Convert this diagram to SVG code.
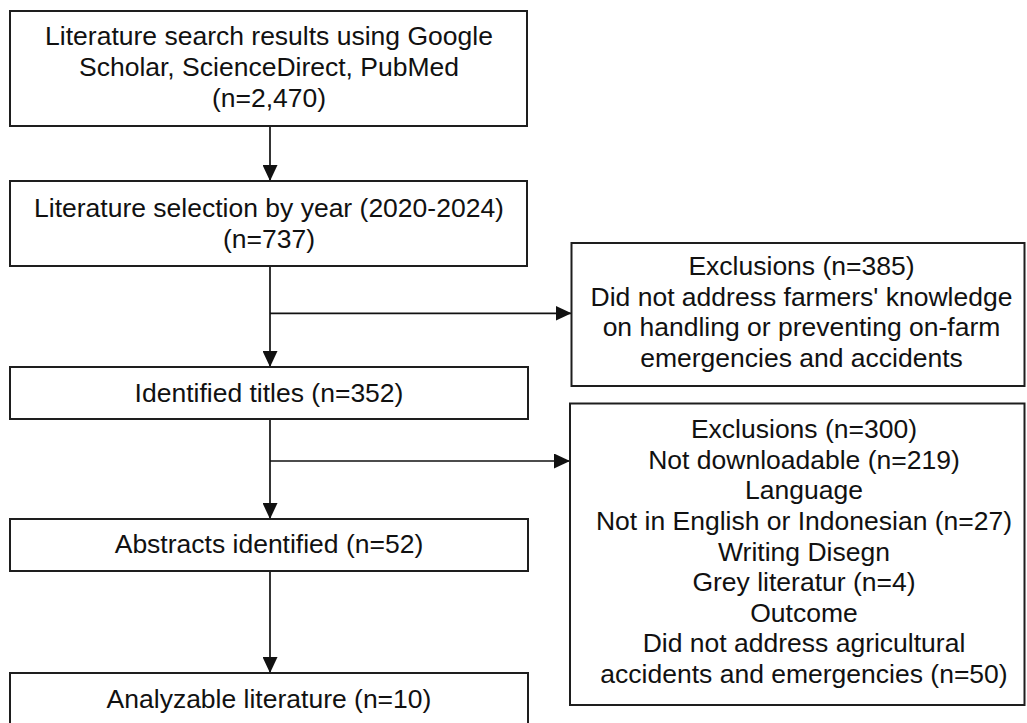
<svg xmlns="http://www.w3.org/2000/svg" width="1027" height="723" viewBox="0 0 1027 723">
<style>
.box{fill:#fff;stroke:#1e1e1e;stroke-width:2}
.lbl{font-family:"Liberation Sans",Arial,sans-serif;font-size:26.5px;fill:#111;text-anchor:middle}
.con{fill:none;stroke:#111;stroke-width:1.7;marker-end:url(#arr)}
</style>
<defs>
<marker id="arr" viewBox="0 0 16 15" refX="16" refY="7.5" markerWidth="16" markerHeight="15" markerUnits="userSpaceOnUse" orient="auto">
<path d="M0,0 L16,7.5 L0,15 z" fill="#111"/>
</marker>
</defs>
<rect width="1027" height="723" fill="#fff"/>
<g id="connectors">
<path class="con" d="M270,126 V181"/>
<path class="con" d="M270,266 V367"/>
<path class="con" d="M270,313.3 H571.5"/>
<path class="con" d="M270,419 V519"/>
<path class="con" d="M270,461 H570"/>
<path class="con" d="M270,571 V673"/>
</g>
<g id="n1">
<rect class="box" x="10" y="11" width="517" height="115"/>
<text class="lbl" x="269" y="45">Literature search results using Google</text>
<text class="lbl" x="269" y="76">Scholar, ScienceDirect, PubMed</text>
<text class="lbl" x="269" y="106.7">(n=2,470)</text>
</g>
<g id="n2">
<rect class="box" x="10" y="181" width="517" height="85"/>
<text class="lbl" x="269" y="216.7">Literature selection by year (2020-2024)</text>
<text class="lbl" x="269" y="248.3">(n=737)</text>
</g>
<g id="ex1">
<rect class="box" x="571.5" y="243" width="453" height="143"/>
<text class="lbl" x="801.5" y="275">Exclusions (n=385)</text>
<text class="lbl" x="801.5" y="305.5">Did not address farmers' knowledge</text>
<text class="lbl" x="801.5" y="336">on handling or preventing on-farm</text>
<text class="lbl" x="801.5" y="366.5">emergencies and accidents</text>
</g>
<g id="n3">
<rect class="box" x="10" y="367" width="518" height="52"/>
<text class="lbl" x="269" y="401.7">Identified titles (n=352)</text>
</g>
<g id="ex2">
<rect class="box" x="570" y="403.5" width="454.5" height="301.5"/>
<text class="lbl" x="804" y="438.3">Exclusions (n=300)</text>
<text class="lbl" x="804" y="468.9">Not downloadable (n=219)</text>
<text class="lbl" x="804" y="499.4">Language</text>
<text class="lbl" x="804" y="530">Not in English or Indonesian (n=27)</text>
<text class="lbl" x="804" y="560.5">Writing Disegn</text>
<text class="lbl" x="804" y="591.1">Grey literatur (n=4)</text>
<text class="lbl" x="804" y="621.6">Outcome</text>
<text class="lbl" x="804" y="652.2">Did not address agricultural</text>
<text class="lbl" x="804" y="682.7">accidents and emergencies (n=50)</text>
</g>
<g id="n4">
<rect class="box" x="10" y="519" width="518" height="52"/>
<text class="lbl" x="269" y="553.3">Abstracts identified (n=52)</text>
</g>
<g id="n5">
<rect class="box" x="10" y="673" width="518" height="70"/>
<text class="lbl" x="269" y="708.3">Analyzable literature (n=10)</text>
</g>
</svg>
